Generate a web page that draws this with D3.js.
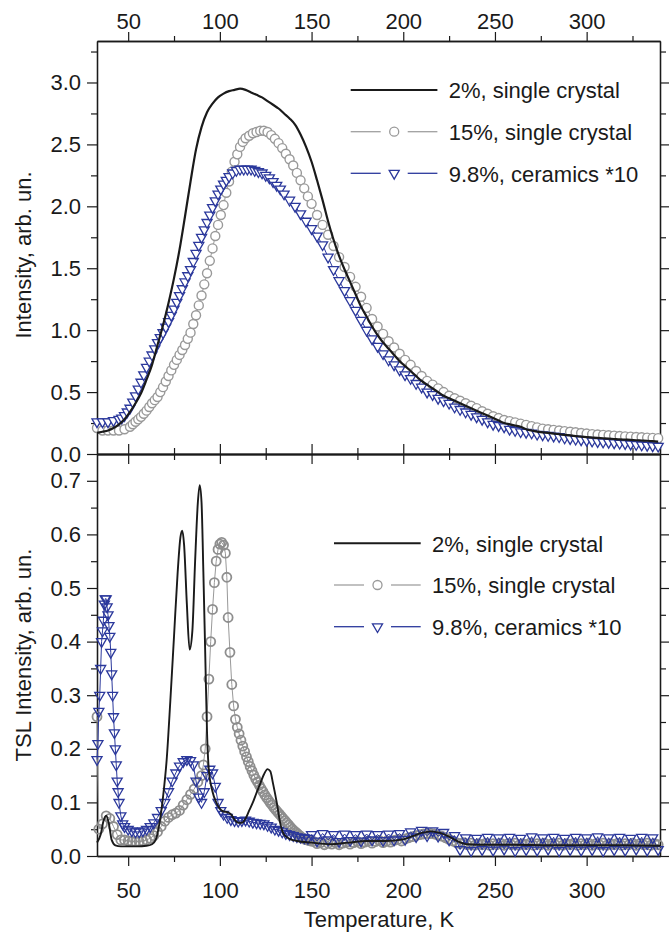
<!DOCTYPE html>
<html>
<head>
<meta charset="utf-8">
<script src="https://cdn.jsdelivr.net/npm/d3@7"></script>
<style>
body { margin:0; background:#fff; }
</style>
</head>
<body>
<div id="chart"></div>
<script>
////////////////////////////// data //////////////////////////////
// upper panel: [T (K), intensity]
var TOP_2PCT = [[33,0.17],[36,0.18],[39,0.19],[42,0.21],[45,0.24],[48,0.28],[51,0.34],[54,0.41],
  [57,0.49],[60,0.60],[63,0.72],[66,0.88],[69,1.04],[72,1.22],[75,1.42],[78,1.65],[81,1.92],
  [84,2.20],[87,2.46],[90,2.64],[93,2.76],[96,2.83],[99,2.88],[102,2.91],[105,2.93],[108,2.94],
  [111,2.95],[114,2.94],[117,2.92],[120,2.90],[123,2.88],[126,2.85],[129,2.82],[132,2.79],
  [135,2.75],[138,2.71],[141,2.66],[144,2.58],[147,2.48],[150,2.36],[153,2.21],[156,2.05],
  [159,1.88],[162,1.73],[165,1.60],[168,1.49],[171,1.39],[174,1.29],[177,1.19],[180,1.11],
  [183,1.03],[186,0.96],[189,0.90],[192,0.85],[195,0.80],[198,0.75],[201,0.71],[204,0.67],
  [207,0.63],[210,0.59],[213,0.56],[216,0.53],[219,0.50],[222,0.47],[225,0.45],[228,0.43],
  [231,0.41],[234,0.39],[237,0.37],[240,0.35],[243,0.33],[246,0.31],[249,0.29],[252,0.27],
  [255,0.25],[258,0.24],[261,0.23],[264,0.22],[267,0.20],[270,0.19],[273,0.18],[276,0.175],
  [279,0.17],[282,0.165],[285,0.16],[288,0.155],[291,0.15],[294,0.145],[297,0.14],[300,0.136],
  [303,0.133],[306,0.13],[309,0.127],[312,0.124],[315,0.121],[318,0.118],[321,0.116],
  [324,0.114],[327,0.111],[330,0.109],[333,0.107],[336,0.104],[339,0.10]];

var TOP_15PCT = [[33,0.21],[36,0.19],[39,0.19],[42,0.19],[45,0.19],[48,0.2],[51,0.22],[52.5,0.24],
  [54,0.26],[55.5,0.28],[57,0.30],[58.5,0.325],[60,0.35],[61.5,0.38],[63,0.41],[64.5,0.435],
  [66,0.46],[67.5,0.50],[69,0.54],[70.5,0.585],[72,0.63],[73.5,0.675],[75,0.72],[76.5,0.76],
  [78,0.80],[79.5,0.84],[81,0.88],[82.5,0.93],[84,0.98],[85.5,1.05],[87,1.12],[88.5,1.20],
  [90,1.28],[91.5,1.37],[93,1.46],[94.5,1.56],[96,1.66],[97.5,1.76],[99,1.85],[100.5,1.93],
  [102,2.01],[103.5,2.11],[105,2.20],[106.5,2.28],[108,2.36],[109.5,2.42],[111,2.48],
  [112.5,2.52],[114,2.55],[116,2.57],[118,2.59],[120,2.60],[122,2.61],[124,2.61],[126,2.60],
  [128,2.575],[130,2.545],[132,2.51],[134,2.47],[136,2.425],[138,2.38],[140,2.33],[142,2.27],
  [144,2.21],[146,2.145],[148,2.08],[150,2.02],[153,1.93],[156,1.85],[159,1.77],[162,1.68],
  [165,1.59],[168,1.51],[171,1.43],[174,1.35],[177,1.27],[180,1.18],[183,1.09],[186,1.03],
  [189,0.97],[192,0.91],[195,0.86],[198,0.81],[201,0.76],[204,0.72],[207,0.67],[210,0.63],
  [213,0.59],[216,0.56],[219,0.53],[222,0.50],[225,0.47],[228,0.45],[231,0.43],[234,0.41],
  [237,0.39],[240,0.37],[243,0.345],[246,0.325],[249,0.305],[252,0.29],[255,0.275],[258,0.265],
  [261,0.255],[264,0.245],[267,0.235],[270,0.225],[273,0.215],[276,0.205],[279,0.2],[282,0.195],
  [285,0.19],[288,0.185],[291,0.18],[294,0.175],[297,0.17],[300,0.165],[303,0.16],[306,0.157],
  [309,0.154],[312,0.151],[315,0.148],[318,0.145],[321,0.142],[324,0.14],[327,0.137],
  [330,0.135],[333,0.132],[336,0.13],[339,0.128]];

var TOP_CER = [[33,0.26],[36,0.26],[39,0.26],[42,0.27],[45,0.28],[46.5,0.29],[48,0.31],[49.5,0.34],
  [51,0.37],[52.5,0.42],[54,0.47],[55.5,0.525],[57,0.58],[58.5,0.64],[60,0.70],[61.5,0.75],
  [63,0.80],[64.5,0.85],[66,0.90],[67.5,0.94],[69,0.98],[70.5,1.025],[72,1.07],[73.5,1.12],
  [75,1.17],[76.5,1.225],[78,1.28],[79.5,1.335],[81,1.39],[82.5,1.44],[84,1.49],[85.5,1.555],
  [87,1.62],[88.5,1.685],[90,1.75],[91.5,1.81],[93,1.87],[94.5,1.93],[96,1.99],[97.5,2.045],
  [99,2.10],[100.5,2.14],[102,2.18],[103.5,2.21],[105,2.24],[107,2.27],[109,2.29],[111,2.30],
  [113,2.30],[115,2.30],[117,2.30],[119,2.29],[121,2.28],[123,2.27],[125,2.25],[127,2.23],
  [129,2.20],[131,2.17],[133,2.14],[135,2.10],[138,2.05],[141,2.00],[144,1.94],[147,1.88],
  [150,1.82],[153,1.76],[156,1.69],[159,1.59],[162,1.49],[165,1.40],[168,1.32],[171,1.24],
  [174,1.16],[177,1.08],[180,1.00],[183,0.93],[186,0.87],[189,0.81],[192,0.76],[195,0.72],
  [198,0.68],[201,0.64],[204,0.61],[207,0.57],[210,0.54],[213,0.50],[216,0.48],[219,0.45],
  [222,0.43],[225,0.41],[228,0.38],[231,0.36],[234,0.34],[237,0.32],[240,0.30],[243,0.28],
  [246,0.26],[249,0.24],[252,0.23],[255,0.22],[258,0.20],[261,0.19],[264,0.18],[267,0.175],
  [270,0.17],[273,0.16],[276,0.155],[279,0.15],[282,0.145],[285,0.14],[288,0.13],[291,0.125],
  [294,0.12],[297,0.115],[300,0.11],[303,0.105],[306,0.10],[309,0.097],[312,0.094],[315,0.09],
  [318,0.087],[321,0.084],[324,0.08],[327,0.077],[330,0.073],[333,0.07],[336,0.066],[339,0.063]];

// lower panel (TSL): [T (K), intensity]
var TSL_2PCT = [[33,0.025],[35,0.04],[36.5,0.065],[38,0.075],[39.5,0.06],[41,0.03],[43,0.02],
  [46,0.018],[50,0.018],[55,0.018],[60,0.019],[63,0.022],[65,0.03],[67,0.06],[69,0.11],
  [71,0.18],[73,0.29],[75,0.41],[77,0.53],[78.5,0.595],[79.5,0.607],[80.5,0.58],[82,0.47],
  [83.5,0.385],[85,0.42],[86.5,0.55],[88,0.66],[89,0.692],[90,0.66],[91,0.53],[92,0.38],
  [93,0.23],[94,0.16],[96,0.12],[98,0.10],[100,0.088],[102,0.083],[104,0.082],[106,0.078],
  [108,0.068],[110,0.062],[112,0.062],[114,0.07],[116,0.085],[118,0.10],[120,0.118],
  [122,0.135],[124,0.152],[126,0.162],[127.5,0.158],[129,0.135],[131,0.10],[133,0.06],
  [135,0.04],[138,0.032],[142,0.028],[150,0.025],[160,0.022],[170,0.025],[180,0.028],
  [190,0.028],[200,0.031],[205,0.037],[210,0.043],[215,0.046],[220,0.043],[225,0.036],
  [230,0.027],[235,0.022],[245,0.021],[260,0.021],[280,0.02],[300,0.02],[320,0.02],[340,0.019]];

var TSL_15PCT = [[33,0.26],[34,0.05],[36,0.06],[38,0.075],[40,0.07],[42,0.055],[44,0.04],
  [46,0.03],[48,0.03],[50,0.028],[52,0.027],[54,0.027],[56,0.027],[58,0.028],[60,0.03],
  [62,0.033],[64,0.038],[66,0.045],[68,0.055],[70,0.065],[72,0.072],[74,0.077],[76,0.08],
  [78,0.085],[80,0.095],[82,0.105],[84,0.115],[86,0.125],[88,0.138],[90,0.15],[91,0.17],
  [92,0.2],[93,0.26],[94,0.33],[95,0.4],[96,0.46],[97,0.51],[98,0.55],[99,0.572],[100,0.582],
  [101,0.585],[102,0.58],[103,0.565],[103.8,0.52],[104.5,0.445],[105.5,0.38],[106.5,0.32],
  [107.5,0.28],[108.5,0.255],[109.5,0.24],[110.5,0.228],[111.5,0.216],[112.5,0.205],
  [113.5,0.195],[114.5,0.185],[115.5,0.176],[116.5,0.167],[117.5,0.159],[118.5,0.151],
  [119.5,0.144],[120.5,0.138],[121.5,0.132],[122.5,0.126],[123.5,0.12],[124.5,0.114],
  [125.5,0.109],[126.5,0.104],[127.5,0.099],[128.5,0.095],[129.5,0.09],[130.5,0.086],
  [131.5,0.082],[132.5,0.078],[133.5,0.074],[134.5,0.07],[135.5,0.066],[136.5,0.062],
  [137.5,0.058],[138.5,0.054],[139.5,0.05],[140.5,0.047],[141.5,0.044],[142.5,0.041],
  [143.5,0.038],[144.5,0.035],[145.5,0.033],[146.5,0.031],[147.5,0.03],[148.5,0.029],
  [149.5,0.028],[151,0.027],[153,0.023],[155,0.025],[157,0.021],[159,0.024],[161,0.022],
  [163,0.025],[165,0.021],[167,0.024],[169,0.026],[171,0.022],[173,0.025],[175,0.027],
  [177,0.023],[179,0.026],[181,0.028],[183,0.024],[185,0.027],[187,0.029],[189,0.025],
  [191,0.028],[193,0.026],[195,0.029],[197,0.031],[199,0.028],[201,0.032],[203,0.034],
  [205,0.036],[207,0.038],[209,0.04],[211,0.041],[213,0.042],[215,0.042],[217,0.041],
  [219,0.039],[221,0.037],[223,0.034],[225,0.031],[227,0.028],[229,0.025],[231,0.023],
  [233,0.025],[235,0.021],[237,0.024],[239,0.02],[241,0.023],[243,0.021],[245,0.024],
  [247,0.02],[249,0.023],[251,0.021],[253,0.024],[255,0.02],[257,0.023],[259,0.021],
  [261,0.024],[263,0.02],[265,0.023],[267,0.021],[269,0.024],[271,0.02],[273,0.023],
  [275,0.021],[277,0.024],[279,0.02],[281,0.023],[283,0.021],[285,0.024],[287,0.02],
  [289,0.023],[291,0.021],[293,0.024],[295,0.02],[297,0.023],[299,0.021],[301,0.024],
  [303,0.02],[305,0.023],[307,0.021],[309,0.024],[311,0.02],[313,0.023],[315,0.021],
  [317,0.024],[319,0.02],[321,0.023],[323,0.021],[325,0.024],[327,0.02],[329,0.023],
  [331,0.021],[333,0.024],[335,0.02],[337,0.023],[339,0.021]];

var TSL_CER = [[33,0.18],[33.5,0.21],[34,0.27],[34.5,0.3],[35,0.35],[35.5,0.4],[36,0.42],
  [36.5,0.44],[37,0.47],[37.5,0.48],[38,0.48],[38.5,0.465],[39,0.45],[39.5,0.43],[40,0.41],
  [40.5,0.38],[41,0.34],[41.5,0.3],[42,0.26],[42.5,0.23],[43,0.2],[43.5,0.17],[44,0.14],
  [44.5,0.12],[45,0.1],[46,0.075],[47,0.06],[48,0.055],[50,0.05],[52,0.047],[54,0.045],
  [56,0.045],[58,0.047],[60,0.05],[62,0.055],[64,0.062],[66,0.072],[68,0.085],[70,0.1],
  [72,0.12],[74,0.14],[76,0.155],[78,0.168],[80,0.176],[82,0.18],[84,0.178],[85.5,0.17],
  [87,0.14],[88.5,0.11],[90,0.1],[91.5,0.12],[93,0.15],[94.5,0.162],[96,0.155],[97.5,0.13],
  [99,0.1],[100.5,0.085],[102,0.078],[104,0.072],[106,0.068],[108,0.066],[110,0.065],
  [112,0.066],[114,0.067],[116,0.065],[118,0.063],[120,0.062],[122,0.061],[124,0.06],
  [126,0.057],[128,0.054],[130,0.05],[132,0.048],[134,0.045],[136,0.042],[138,0.04],
  [140,0.038],[142,0.036],[144,0.035],[146,0.034],[148,0.033],[150,0.04],[153,0.028],
  [156,0.042],[159,0.03],[162,0.04],[165,0.027],[168,0.041],[171,0.029],[174,0.04],
  [177,0.028],[180,0.041],[183,0.03],[186,0.04],[189,0.029],[192,0.041],[195,0.03],
  [198,0.042],[201,0.031],[204,0.045],[207,0.036],[210,0.048],[213,0.038],[216,0.047],
  [219,0.037],[222,0.044],[225,0.03],[228,0.038],[231,0.012],[234,0.034],[237,0.01],
  [240,0.033],[243,0.012],[246,0.035],[249,0.011],[252,0.034],[255,0.013],[258,0.035],
  [261,0.01],[264,0.033],[267,0.012],[270,0.036],[273,0.011],[276,0.034],[279,0.013],
  [282,0.035],[285,0.01],[288,0.033],[291,0.012],[294,0.035],[297,0.011],[300,0.034],
  [303,0.012],[306,0.036],[309,0.01],[312,0.034],[315,0.012],[318,0.035],[321,0.011],
  [324,0.033],[327,0.013],[330,0.035],[333,0.011],[336,0.034],[339,0.012]];

var X_MAJOR = [50,100,150,200,250,300];
var X_MINOR = [75,125,175,225,275,325];
var Y_TOP_MAJOR = [0,0.5,1.0,1.5,2.0,2.5,3.0];
var Y_TOP_MINOR = [0.25,0.75,1.25,1.75,2.25,2.75,3.25];
var Y_BOT_MAJOR = [0,0.1,0.2,0.3,0.4,0.5,0.6,0.7];
var Y_BOT_MINOR = [0.05,0.15,0.25,0.35,0.45,0.55,0.65];
var LEGEND = ["2%, single crystal", "15%, single crystal", "9.8%, ceramics *10"];

////////////////////////////// layout //////////////////////////////
var W = 669, H = 940;
var xL = 97, xR = 660, yTop = 41, yMid = 454, yBot = 856;
var FONT = "'Liberation Sans', Arial, Helvetica, sans-serif";
var INK = "#1a1a1a", GRAY = "#999999", BLUE = "#2b389c";

var svg = d3.select("#chart").append("svg")
  .attr("width", W).attr("height", H);

var x = d3.scaleLinear().domain([33, 340]).range([xL, xR]);
var yT = d3.scaleLinear().domain([0, 3.335]).range([yMid, yTop]);
var yB = d3.scaleLinear().domain([0, 0.75]).range([yBot, yMid]);

var f1 = d3.format(".1f");
var fx = d3.format("d");

////////////////////////////// axes //////////////////////////////
function addAxis(gen, scale, vals, size, fmt, pad, tx, ty){
  var a = gen(scale).tickValues(vals).tickSize(size).tickSizeOuter(0)
    .tickPadding(pad).tickFormat(fmt ? fmt : "");
  var g = svg.append("g")
    .attr("transform", "translate(" + tx + "," + ty + ")")
    .call(a);
  g.attr("font-size", 22).attr("font-family", FONT).attr("color", INK);
  g.select(".domain").attr("stroke-width", 1.3);
  g.selectAll(".tick line").attr("stroke-width", 1.2);
  return g;
}

// x axes (top, shared middle line, bottom)
addAxis(d3.axisTop, x, X_MAJOR, 9, fx, 3, 0, yTop);
addAxis(d3.axisTop, x, X_MINOR, 5, null, 2, 0, yTop);
addAxis(d3.axisBottom, x, X_MAJOR, -10, null, 2, 0, yMid);
addAxis(d3.axisBottom, x, X_MINOR, -6, null, 2, 0, yMid);
addAxis(d3.axisTop, x, X_MAJOR, -10, null, 2, 0, yMid);
addAxis(d3.axisTop, x, X_MINOR, -6, null, 2, 0, yMid);
addAxis(d3.axisBottom, x, X_MAJOR, 10, fx, 16, 0, yBot);
addAxis(d3.axisBottom, x, X_MINOR, 6, null, 2, 0, yBot);

// y axes
addAxis(d3.axisLeft, yT, Y_TOP_MAJOR, 10, f1, 6, xL, 0);
addAxis(d3.axisLeft, yT, Y_TOP_MINOR, 6, null, 6, xL, 0);
addAxis(d3.axisRight, yT, Y_TOP_MAJOR, 10, null, 6, xR, 0);
addAxis(d3.axisRight, yT, Y_TOP_MINOR, 6, null, 6, xR, 0);
addAxis(d3.axisLeft, yB, Y_BOT_MAJOR, 10, f1, 6, xL, 0);
addAxis(d3.axisLeft, yB, Y_BOT_MINOR, 6, null, 6, xL, 0);
addAxis(d3.axisRight, yB, Y_BOT_MAJOR, 10, null, 6, xR, 0);
addAxis(d3.axisRight, yB, Y_BOT_MINOR, 6, null, 6, xR, 0);

// axis titles
function title(txt, tx, ty, rot){
  svg.append("text")
    .attr("transform", "translate(" + tx + "," + ty + ")" + (rot ? " rotate(-90)" : ""))
    .attr("text-anchor", "middle")
    .attr("font-family", FONT).attr("font-size", 22).attr("fill", INK)
    .text(txt);
}
title("Intensity, arb. un.", 31, 255, true);
title("TSL Intensity, arb. un.", 31, 655, true);
title("Temperature, K", (xL + xR) / 2 + 0.5, 927, false);

////////////////////////////// series //////////////////////////////
var circ = d3.symbol().type(d3.symbolCircle).size(64);
var tri = d3.symbol().type(d3.symbolTriangle).size(44);

function markers(g, pts, y, kind, color, fill, sw){
  g.selectAll(null).data(pts).enter().append("path")
    .attr("d", kind == "c" ? circ : tri)
    .attr("transform", function(d){
      return "translate(" + x(d[0]) + "," + y(d[1]) + ")" + (kind == "t" ? " rotate(180)" : "");
    })
    .attr("fill", fill).attr("stroke", color).attr("stroke-width", sw);
}

function line(g, pts, y, color, w, curve){
  g.append("path").datum(pts)
    .attr("fill", "none").attr("stroke", color).attr("stroke-width", w)
    .attr("stroke-linejoin", "round")
    .attr("d", d3.line().x(function(d){return x(d[0]);}).y(function(d){return y(d[1]);}).curve(curve));
}

var gTop = svg.append("g");
line(gTop, TOP_15PCT, yT, GRAY, 1, d3.curveLinear);
markers(gTop, TOP_15PCT, yT, "c", GRAY, "#fff", 1.4);
line(gTop, TOP_CER, yT, BLUE, 1, d3.curveLinear);
markers(gTop, TOP_CER, yT, "t", BLUE, "#fff", 1.3);
line(gTop, TOP_2PCT, yT, INK, 2.2, d3.curveMonotoneX);

var gBot = svg.append("g");
line(gBot, TSL_15PCT, yB, GRAY, 1, d3.curveLinear);
markers(gBot, TSL_15PCT, yB, "c", "#8e8e8e", "none", 1.8);
line(gBot, TSL_CER, yB, BLUE, 1, d3.curveLinear);
markers(gBot, TSL_CER, yB, "t", BLUE, "none", 1.3);
line(gBot, TSL_2PCT, yB, INK, 1.9, d3.curveMonotoneX);

////////////////////////////// legends //////////////////////////////
function legend(x0, rows){
  var xm = x0 + 43.5, x1 = x0 + 86.7, tx = x0 + 98;
  var sty = [
    {c: INK, w: 2, m: null},
    {c: "#a0a0a0", w: 1.3, m: "c"},
    {c: BLUE, w: 1.3, m: "t"}];
  rows.forEach(function(ry, i){
    var s = sty[i];
    if (!s.m) {
      svg.append("line").attr("x1", x0).attr("x2", x1).attr("y1", ry).attr("y2", ry)
        .attr("stroke", s.c).attr("stroke-width", s.w);
    } else {
      [[x0, xm - 13.5], [xm + 13.5, x1]].forEach(function(seg){
        svg.append("line").attr("x1", seg[0]).attr("x2", seg[1]).attr("y1", ry).attr("y2", ry)
          .attr("stroke", s.c).attr("stroke-width", s.w);
      });
      svg.append("path").attr("d", s.m == "c" ? circ : tri)
        .attr("transform", "translate(" + xm + "," + ry + ")" + (s.m == "t" ? " rotate(180)" : ""))
        .attr("fill", "#fff").attr("stroke", s.m == "c" ? GRAY : BLUE).attr("stroke-width", 1.3);
    }
    svg.append("text").attr("x", tx).attr("y", ry + 8.3)
      .attr("font-family", FONT).attr("font-size", 22).attr("fill", INK)
      .text(LEGEND[i]);
  });
}
legend(350.7, [90, 131.7, 173.3]);
legend(334, [543.3, 585, 626.7]);
</script>
</body>
</html>
